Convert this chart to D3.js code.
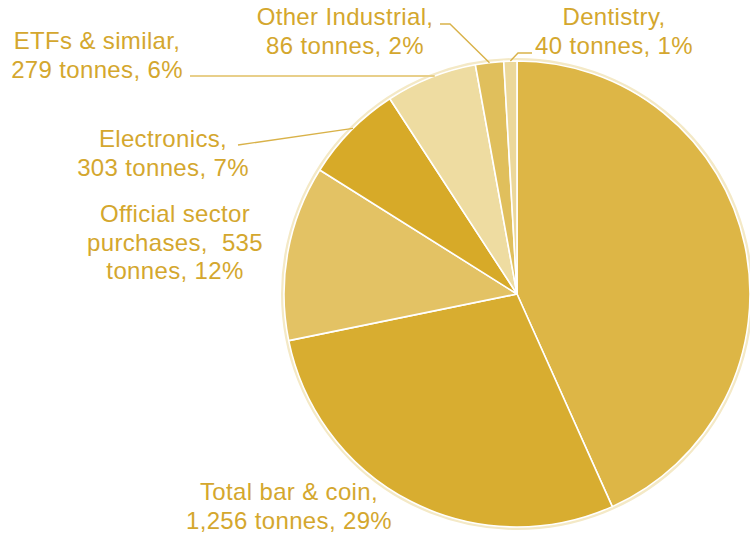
<!DOCTYPE html>
<html>
<head>
<meta charset="utf-8">
<script src="https://cdn.jsdelivr.net/npm/d3@7"></script>
<style>
  html, body { margin: 0; padding: 0; background: #ffffff; }
  svg { display: block; }
  text { font-family: "Liberation Sans", Arial, sans-serif; }
</style>
</head>
<body>
<svg id="chart" width="750" height="537"></svg>
<script>
// Gold demand by sector (tonnes)
const categories = ["Jewellery", "Total bar & coin", "Official sector purchases", "Electronics", "ETFs & similar", "Other Industrial", "Dentistry"];
const tonnes = [1908, 1256, 535, 303, 279, 86, 40];
const percents = [43, 29, 12, 7, 6, 2, 1];
const sliceColors = ["#DDB646", "#D8AD30", "#E3C264", "#D7AA28", "#EEDCA1", "#E0BF5C", "#ECD89A"];

// Label lines for each slice (null = no label drawn)
const labelLines = [
  null,
  ["Total bar & coin,", "1,256 tonnes, 29%"],
  ["Official sector", "purchases,  535", "tonnes, 12%"],
  ["Electronics,", "303 tonnes, 7%"],
  ["ETFs & similar,", "279 tonnes, 6%"],
  ["Other Industrial,", "86 tonnes, 2%"],
  ["Dentistry,", "40 tonnes, 1%"]
];
// label anchor (centre x, first baseline y)
const labelPos = [null, [289, 500], [175, 222], [163, 147], [97, 49], [345, 25], [614, 25]];
// leader line start points (near the text); end points lie on the pie rim
const leaderStart = [null, null, null, [238, 145], [190, 76], [440, 24], [532, 53]];
const leaderElbow = [null, null, null, null, null, [450, 24], [518, 53]];

const cx = 517, cy = 294, r = 233;
const svg = d3.select("#chart");
const g = svg.append("g").attr("transform", `translate(${cx},${cy})`);

const data = categories.map((c, i) => ({ name: c, value: tonnes[i], i }));
const pie = d3.pie().sort(null).value(d => d.value).startAngle(0).endAngle(2 * Math.PI);
const arcs = pie(data);
const arc = d3.arc().innerRadius(0).outerRadius(r);

// soft rim around the pie
g.append("circle").attr("r", r + 1.5)
  .attr("fill", "none").attr("stroke", "#F4E9C6").attr("stroke-width", 3);

g.selectAll("path.slice").data(arcs).enter().append("path")
  .attr("class", "slice")
  .attr("d", arc)
  .attr("fill", d => sliceColors[d.data.i])
  .attr("stroke", "#ffffff")
  .attr("stroke-width", 1.6)
  .attr("stroke-linejoin", "round");

// leader lines
const rimArc = d3.arc().innerRadius(r).outerRadius(r);
arcs.forEach(d => {
  const i = d.data.i;
  if (!leaderStart[i]) return;
  let end;
  if (i === 4) {
    // horizontal line meeting the rim of the ETF slice
    const y = leaderStart[i][1] - cy;
    end = [cx - Math.sqrt(r * r - y * y), leaderStart[i][1]];
  } else {
    const c = rimArc.centroid(d);
    end = [cx + c[0], cy + c[1]];
    if (i === 3) {
      const a = d.startAngle + (d.endAngle - d.startAngle) * 0.53;
      end = [cx + r * Math.sin(a), cy - r * Math.cos(a)];
    }
  }
  const pts = [leaderStart[i]];
  if (leaderElbow[i]) pts.push(leaderElbow[i]);
  pts.push(end);
  svg.append("path")
    .attr("d", d3.line()(pts))
    .attr("fill", "none")
    .attr("stroke", i === 4 ? "#E8CF8A" : "#D9B249")
    .attr("stroke-width", i === 4 ? 2 : 1.4);
});

// labels
labelLines.forEach((lines, i) => {
  if (!lines) return;
  const t = svg.append("text")
    .attr("text-anchor", "middle")
    .attr("fill", "#D4A72E")
    .attr("font-size", 24)
    .attr("letter-spacing", 0.35);
  lines.forEach((s, k) => {
    t.append("tspan").attr("x", labelPos[i][0]).attr("y", labelPos[i][1] + k * 28.5)
      .attr("xml:space", "preserve").text(s);
  });
});
</script>
</body>
</html>
